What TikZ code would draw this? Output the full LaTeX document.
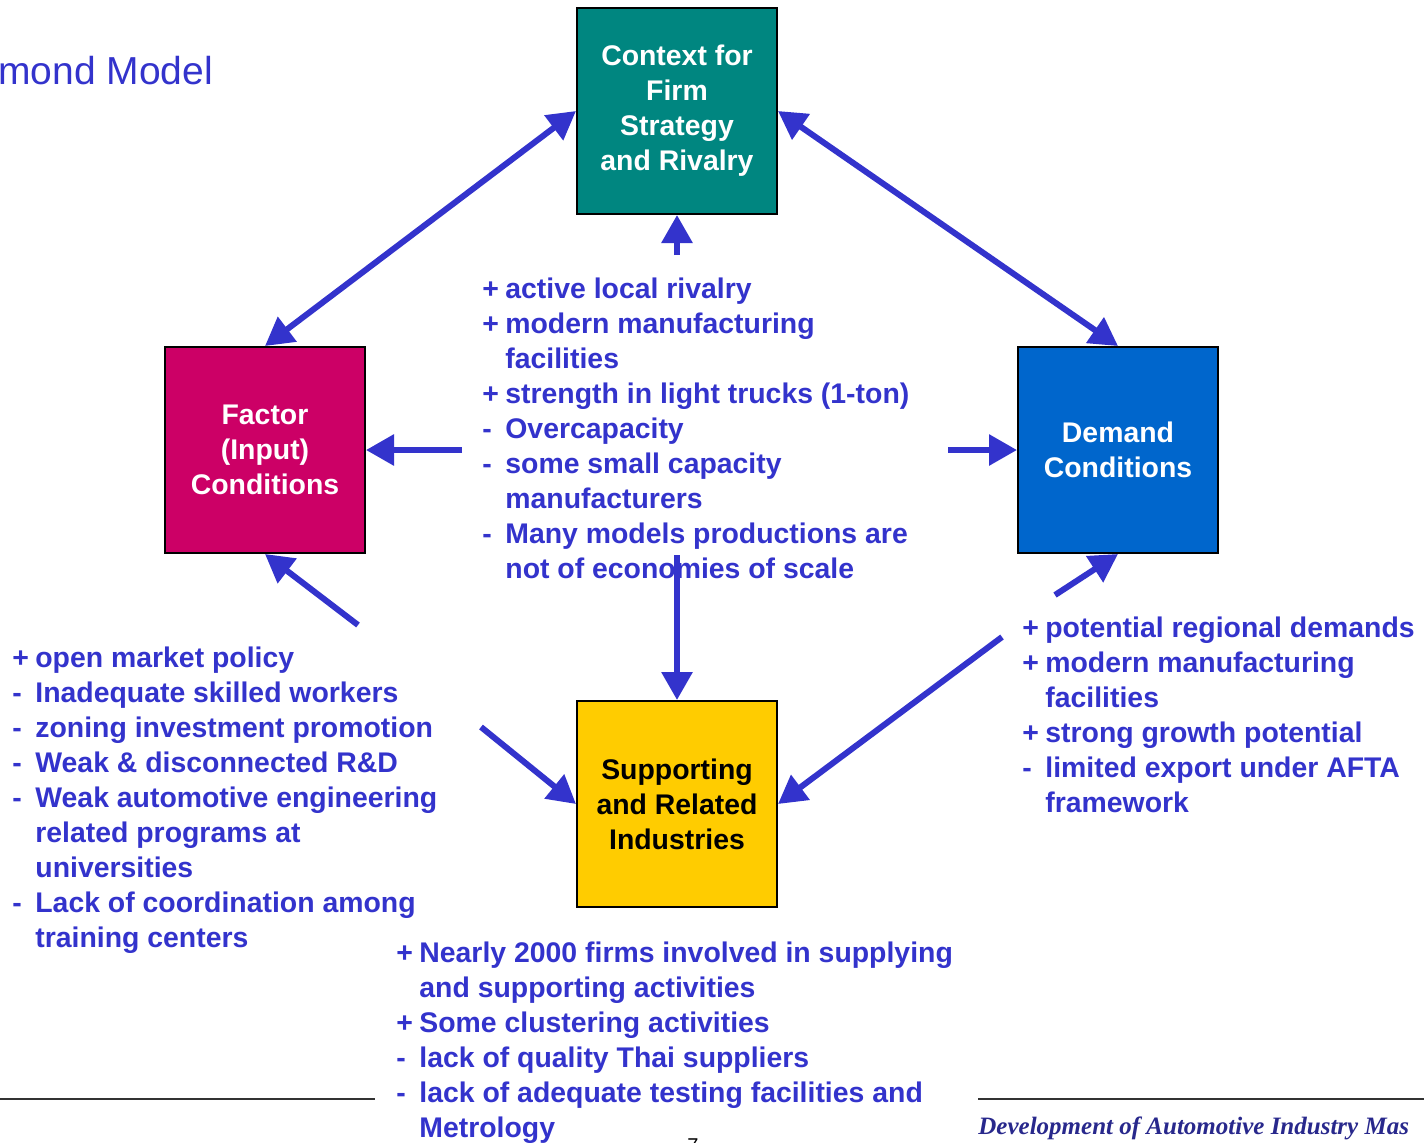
\documentclass[tikz,border=0pt]{standalone}
\usepackage{fontspec}
\setmainfont{Liberation Sans}
\newfontfamily\footerfont{Liberation Serif}
\usetikzlibrary{arrows.meta, calc}
\definecolor{txtblue}{RGB}{51,51,204}
\definecolor{rivalteal}{RGB}{0,134,128}
\definecolor{factormag}{RGB}{204,0,102}
\definecolor{demandblue}{RGB}{0,102,204}
\definecolor{supportyel}{RGB}{255,204,0}
\definecolor{footblue}{RGB}{40,40,140}
\newcommand{\itm}[1]{\makebox[11.5pt][l]{#1}}
\newcommand{\bodyfont}{\fontsize{14.2}{17.5}\selectfont\bfseries}

\begin{document}
\begin{tikzpicture}[x=0.5pt, y=-0.5pt, >={Triangle[width=15pt,length=14pt]},
  box/.style={draw=black, line width=1pt, minimum width=100pt, minimum height=103pt,
    inner sep=0pt, align=center, font=\bodyfont},
  notes/.style={anchor=base west, inner sep=0pt, text=txtblue, font=\bodyfont},
  link/.style={draw=txtblue, line width=3pt}]
\useasboundingbox (0,0) rectangle (1424,1142);
% Heading, cut at the left edge
\node[anchor=base west, inner sep=0pt, text=txtblue, font=\fontsize{19.5}{23}\selectfont]
  (title) at (-2,84) {mond Model};
% The four corners of the diamond
\node[box, fill=rivalteal, text=white] (rivalry) at (677,111)
  {Context for\\Firm\\Strategy\\and Rivalry};
\node[box, fill=factormag, text=white] (factor) at (265,450)
  {Factor\\(Input)\\Conditions};
\node[box, fill=demandblue, text=white] (demand) at (1118,450)
  {Demand\\Conditions};
\node[box, fill=supportyel, text=black] (support) at (677,804)
  {Supporting\\and Related\\Industries};
% Notes for each corner
\node[notes] (rivalnotes) at (482,298) {\begin{tabular}[t]{@{}l@{}}
  \itm{+}active local rivalry\\
  \itm{+}modern manufacturing\\
  \itm{}facilities\\
  \itm{+}strength in light trucks (1-ton)\\
  \itm{-}Overcapacity\\
  \itm{-}some small capacity\\
  \itm{}manufacturers\\
  \itm{-}Many models productions are\\
  \itm{}not of economies of scale
\end{tabular}};
\node[notes] (factornotes) at (12,667) {\begin{tabular}[t]{@{}l@{}}
  \itm{+}open market policy\\
  \itm{-}Inadequate skilled workers\\
  \itm{-}zoning investment promotion\\
  \itm{-}Weak \& disconnected R\&D\\
  \itm{-}Weak automotive engineering\\
  \itm{}related programs at\\
  \itm{}universities\\
  \itm{-}Lack of coordination among\\
  \itm{}training centers
\end{tabular}};
\node[notes] (demandnotes) at (1022,637) {\begin{tabular}[t]{@{}l@{}}
  \itm{+}potential regional demands\\
  \itm{+}modern manufacturing\\
  \itm{}facilities\\
  \itm{+}strong growth potential\\
  \itm{-}limited export under AFTA\\
  \itm{}framework
\end{tabular}};
\node[notes] (supportnotes) at (396,962) {\begin{tabular}[t]{@{}l@{}}
  \itm{+}Nearly 2000 firms involved in supplying\\
  \itm{}and supporting activities\\
  \itm{+}Some clustering activities\\
  \itm{-}lack of quality Thai suppliers\\
  \itm{-}lack of adequate testing facilities and\\
  \itm{}Metrology
\end{tabular}};
% Free ends of the short arrows
\coordinate (up) at (677,255);
\coordinate (left) at (462,450);
\coordinate (right) at (948,450);
\coordinate (down) at (677,555);
\coordinate (fromleft) at (358,625);
\coordinate (toright) at (481,727);
\coordinate (fromright) at (1055,595);
\coordinate (tosupport) at (1002,637);
% Arrows of the diamond
\draw[link, <->] (rivalry.west) -- (factor.north);
\draw[link, <->] (rivalry.east) -- (demand.north);
\draw[link, ->] (up) -- (rivalry.south);
\draw[link, ->] (left) -- (factor.east);
\draw[link, ->] (right) -- (demand.west);
\draw[link, ->] (down) -- (support.north);
\draw[link, ->] (fromleft) -- (factor.south);
\draw[link, ->] (toright) -- (support.west);
\draw[link, ->] (fromright) -- (demand.south);
\draw[link, ->] (tosupport) -- (support.east);
% Footer
\coordinate (footl) at (0,1099);
\coordinate (footm) at (375,1099);
\coordinate (footr) at (978,1099);
\coordinate (foote) at (1424,1099);
\draw[line width=1pt, black!80] (footl) -- (footm);
\draw[line width=1pt, black!80] (footr) -- (foote);
\node[anchor=base west, inner sep=0pt, text=footblue,
  font=\footerfont\fontsize{12.5}{15}\selectfont\bfseries\itshape]
  (footer) at (978,1134) {Development of Automotive Industry Mas};
\node[anchor=base, inner sep=0pt, font=\fontsize{10}{12}\selectfont] (page) at (693,1152) {7};
\end{tikzpicture}
\end{document}
